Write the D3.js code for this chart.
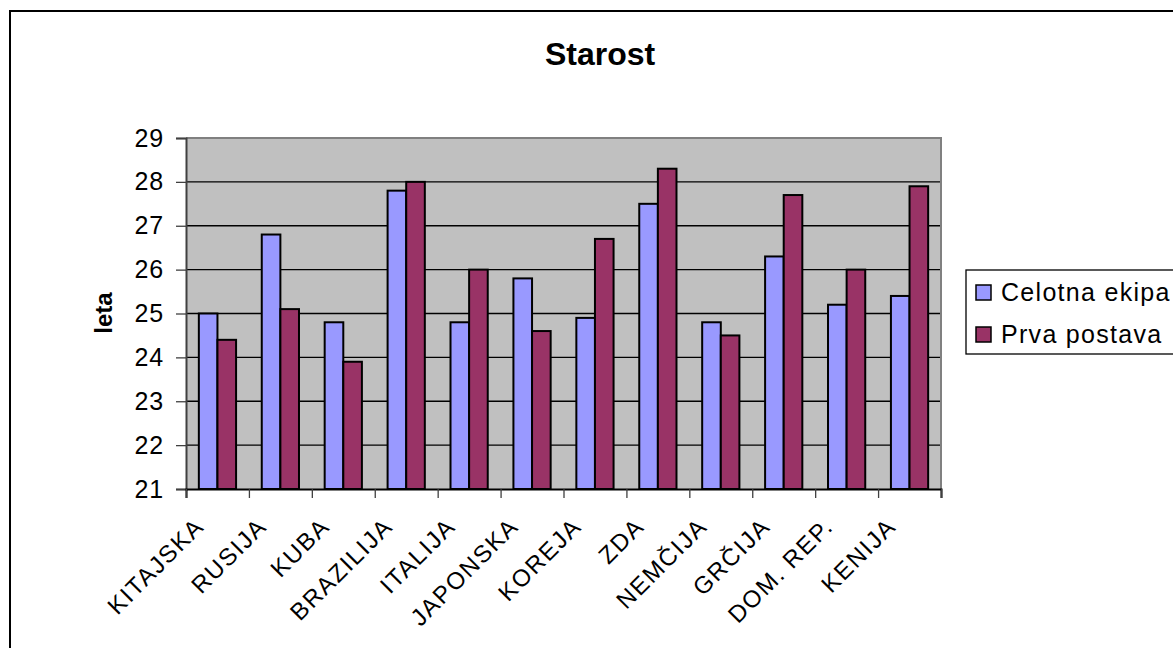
<!DOCTYPE html>
<html>
<head>
<meta charset="utf-8">
<script src="https://cdn.jsdelivr.net/npm/d3@7"></script>
<style>
body { margin: 0; background: #fff; }
svg text { font-family: "Liberation Sans", Arial, sans-serif; }
</style>
</head>
<body>
<svg id="chart" width="1173" height="648"></svg>
<script>
var countries = ["KITAJSKA", "RUSIJA", "KUBA", "BRAZILIJA", "ITALIJA", "JAPONSKA",
    "KOREJA", "ZDA", "NEMČIJA", "GRČIJA", "DOM. REP.", "KENIJA"];
var series = ["Celotna ekipa", "Prva postava"];
var celotna = [25.0, 26.8, 24.8, 27.8, 24.8, 25.8, 24.9, 27.5, 24.8, 26.3, 25.2, 25.4];
var prva = [24.4, 25.1, 23.9, 28.0, 26.0, 24.6, 26.7, 28.3, 24.5, 27.7, 26.0, 27.9];
var yTicks = [21, 22, 23, 24, 25, 26, 27, 28, 29];
var colors = ["#9999ff", "#993366"];

var svg = d3.select("#chart");

// outer chart border (runs off the right and bottom edge)
svg.append("rect")
    .attr("x", 10).attr("y", 11)
    .attr("width", 1200).attr("height", 700)
    .attr("fill", "#fff")
    .attr("stroke", "#000")
    .attr("stroke-width", 2);

var plot = {left: 186, right: 941, top: 138, bottom: 489};

var x = d3.scaleBand()
    .domain(countries)
    .range([plot.left, plot.right]);

var xInner = d3.scaleBand()
    .domain(series)
    .range([0, x.bandwidth()])
    .paddingOuter(0.69);

var y = d3.scaleLinear()
    .domain([21, 29])
    .range([plot.bottom, plot.top]);

// plot background
svg.append("rect")
    .attr("x", plot.left).attr("y", plot.top)
    .attr("width", plot.right - plot.left)
    .attr("height", plot.bottom - plot.top)
    .attr("fill", "#c0c0c0");

// gridlines
svg.append("g")
    .selectAll("line")
    .data(yTicks.slice(1, -1))
    .enter()
    .append("line")
    .attr("x1", plot.left).attr("x2", plot.right)
    .attr("y1", function(d) { return y(d); })
    .attr("y2", function(d) { return y(d); })
    .attr("stroke", "#000")
    .attr("stroke-width", 1.3);

// plot border top / right
svg.append("path")
    .attr("d", "M" + plot.left + "," + plot.top + "H" + plot.right + "V" + plot.bottom)
    .attr("fill", "none")
    .attr("stroke", "#808080")
    .attr("stroke-width", 2);

var rows = countries.map(function(c, i) {
    return {country: c, values: [celotna[i], prva[i]]};
});

svg.append("g")
    .selectAll("g")
    .data(rows)
    .enter()
    .append("g")
    .attr("transform", function(d) { return "translate(" + x(d.country) + ",0)"; })
    .selectAll("rect")
    .data(function(d) {
        return d.values.map(function(v, j) { return {s: series[j], v: v, j: j}; });
    })
    .enter()
    .append("rect")
    .attr("x", function(d) { return xInner(d.s); })
    .attr("width", xInner.bandwidth())
    .attr("y", function(d) { return y(d.v); })
    .attr("height", function(d) { return y(21) - y(d.v); })
    .attr("fill", function(d) { return colors[d.j]; })
    .attr("stroke", "#000")
    .attr("stroke-width", 2);

// y axis
var yAxis = d3.axisLeft(y).tickValues(yTicks).tickSize(10).tickPadding(12);
var gy = svg.append("g")
    .attr("transform", "translate(" + plot.left + ",0)")
    .call(yAxis);
gy.select(".domain").attr("stroke", "#404040").attr("stroke-width", 2);
gy.selectAll(".tick line").attr("stroke", "#404040").attr("stroke-width", 1.3);
gy.selectAll(".tick text")
    .attr("font-size", 25)
    .attr("letter-spacing", 0.8)
    .attr("fill", "#000")
    .attr("font-family", "Liberation Sans, Arial, sans-serif");

// x axis: tick marks on category boundaries
var xEdge = d3.scaleLinear().domain([0, countries.length]).range([plot.left, plot.right]);
var xAxis = d3.axisBottom(xEdge)
    .tickValues(d3.range(countries.length + 1))
    .tickSize(9)
    .tickFormat("");
var gx = svg.append("g")
    .attr("transform", "translate(0," + plot.bottom + ")")
    .call(xAxis);
gx.select(".domain").attr("stroke", "#000").attr("stroke-width", 2);
gx.selectAll(".tick line").attr("stroke", "#404040").attr("stroke-width", 1.3);

// rotated category labels
svg.append("g")
    .selectAll("text")
    .data(countries)
    .enter()
    .append("text")
    .attr("transform", function(d) {
        return "translate(" + (x(d) + x.bandwidth() / 2 - 18) + ",522) rotate(-45)";
    })
    .attr("text-anchor", "end")
    .attr("dy", "0.35em")
    .attr("font-size", 24)
    .attr("letter-spacing", 1.6)
    .text(function(d) { return d; });

// title
svg.append("text")
    .attr("x", 600).attr("y", 65)
    .attr("text-anchor", "middle")
    .attr("font-size", 32)
    .attr("font-weight", "bold")
    .text("Starost");

// y label
svg.append("text")
    .attr("transform", "translate(112,313) rotate(-90)")
    .attr("text-anchor", "middle")
    .attr("font-size", 24)
    .attr("font-weight", "bold")
    .text("leta");

// legend
var legend = svg.append("g").attr("transform", "translate(966,270)");
legend.append("rect")
    .attr("width", 240).attr("height", 84)
    .attr("fill", "#fff")
    .attr("stroke", "#000")
    .attr("stroke-width", 1.3);
var items = legend.selectAll("g.item")
    .data(series)
    .enter()
    .append("g")
    .attr("class", "item")
    .attr("transform", function(d, i) { return "translate(0," + (22 + i * 42) + ")"; });
items.append("rect")
    .attr("x", 10).attr("y", -7)
    .attr("width", 15).attr("height", 15)
    .attr("fill", function(d, i) { return colors[i]; })
    .attr("stroke", "#000")
    .attr("stroke-width", 1.5);
items.append("text")
    .attr("x", 35)
    .attr("dy", "0.35em")
    .attr("font-size", 25)
    .attr("letter-spacing", 1.3)
    .text(function(d) { return d; });
</script>
</body>
</html>
